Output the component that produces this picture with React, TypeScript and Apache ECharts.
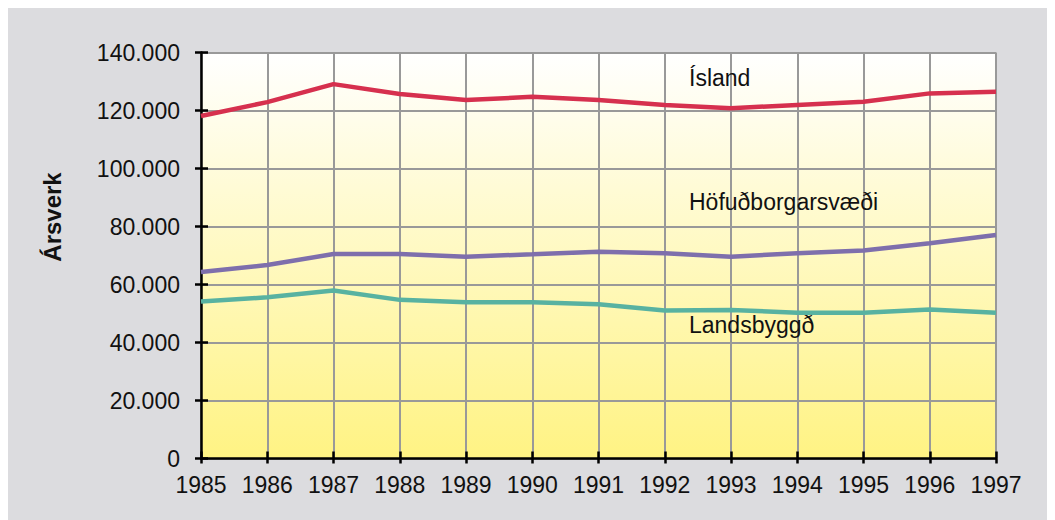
import React, { useEffect, useRef } from "react";
import * as echarts from "echarts";

const years = ["1985", "1986", "1987", "1988", "1989", "1990", "1991", "1992", "1993", "1994", "1995", "1996", "1997"];
const island = [118100, 122900, 129100, 125700, 123600, 124700, 123600, 121900, 120800, 121900, 123000, 125900, 126500];
const hofud = [64300, 66700, 70500, 70500, 69600, 70400, 71300, 70800, 69600, 70800, 71700, 74200, 77100];
const landsbyggd = [54100, 55600, 57900, 54700, 53900, 53900, 53200, 51000, 51200, 50300, 50300, 51400, 50300];
const seriesNames = ["Ísland", "Höfuðborgarsvæði", "Landsbyggð"];
const yAxisTitle = "Ársverk";

const FONT = "'Liberation Sans', Arial, sans-serif";
const FS = 23;

function fmt(v: number): string {
  return String(v).replace(/\B(?=(\d{3})+(?!\d))/g, ".");
}

export default function App() {
  const ref = useRef<HTMLDivElement>(null);
  useEffect(() => {
    if (!ref.current) return;
    const chart = echarts.init(ref.current, undefined, { renderer: "svg" });
    const yCommon = {
      type: "value" as const,
      min: 0,
      max: 140000,
      interval: 20000,
      position: "left" as const,
    };
    chart.setOption({
      animation: false,
      backgroundColor: "#dcdcdf",
      textStyle: { fontFamily: FONT },
      grid: {
        left: 193,
        top: 44.5,
        right: 59,
        bottom: 61.5,
        show: true,
        borderWidth: 0,
        backgroundColor: new echarts.graphic.LinearGradient(0, 0, 0, 1, [
          { offset: 0, color: "#ffffff" },
          { offset: 1, color: "#fff383" },
        ]),
      },
      xAxis: [
        {
          type: "category",
          data: years,
          boundaryGap: false,
          axisLine: { show: true, lineStyle: { color: "#000", width: 2.5 } },
          axisTick: { show: true, interval: 0, inside: false, length: 5, lineStyle: { color: "#000", width: 2.5 } },
          axisLabel: { color: "#111", fontSize: FS, fontFamily: FONT, margin: 15, interval: 0, hideOverlap: false },
          splitLine: { show: true, interval: 0, lineStyle: { color: "#999999", width: 2 } },
        },
        {
          type: "category",
          data: years,
          boundaryGap: false,
          position: "bottom",
          axisLine: { show: false },
          axisTick: { show: true, interval: 0, inside: true, length: 7, lineStyle: { color: "#000", width: 2.5 } },
          axisLabel: { show: false },
          splitLine: { show: false },
        },
      ],
      yAxis: [
        {
          ...yCommon,
          axisLine: { show: true, lineStyle: { color: "#000", width: 2.5 } },
          axisTick: { show: true, inside: false, length: 6, lineStyle: { color: "#000", width: 2.5 } },
          axisLabel: { color: "#111", fontSize: FS, fontFamily: FONT, margin: 21, formatter: (v: number) => fmt(v) },
          splitLine: { show: true, lineStyle: { color: "#999999", width: 2 } },
        },
        {
          ...yCommon,
          axisLine: { show: false },
          axisTick: { show: true, inside: true, length: 7, lineStyle: { color: "#000", width: 2.5 } },
          axisLabel: { show: false },
          splitLine: { show: false },
        },
      ],
      series: [
        { name: seriesNames[0], type: "line", data: island, color: "#d6304e" },
        { name: seriesNames[1], type: "line", data: hofud, color: "#7e6fac" },
        { name: seriesNames[2], type: "line", data: landsbyggd, color: "#58b2a1" },
      ].map((s) => ({
        ...s,
        showSymbol: false,
        symbol: "none",
        lineStyle: { width: 4.5, color: s.color },
        itemStyle: { color: s.color },
        z: 5,
      })),
      graphic: [
        {
          type: "text",
          x: 44,
          y: 209,
          rotation: Math.PI / 2,
          style: {
            text: yAxisTitle,
            fontFamily: FONT,
            fontSize: 24,
            fontWeight: "bold",
            fill: "#111",
            align: "center",
            verticalAlign: "middle",
          },
        },
        ...seriesNames.map((name, i) => ({
          type: "text",
          x: 681,
          y: [70, 193.6, 316.6][i],
          z: 10,
          style: {
            text: name,
            fontFamily: FONT,
            fontSize: FS,
            fill: "#111",
            align: "left",
            verticalAlign: "middle",
          },
        })),
      ],
    });
    return () => chart.dispose();
  }, []);
  return <div ref={ref} style={{ width: 1047, height: 512 }} />;
}
